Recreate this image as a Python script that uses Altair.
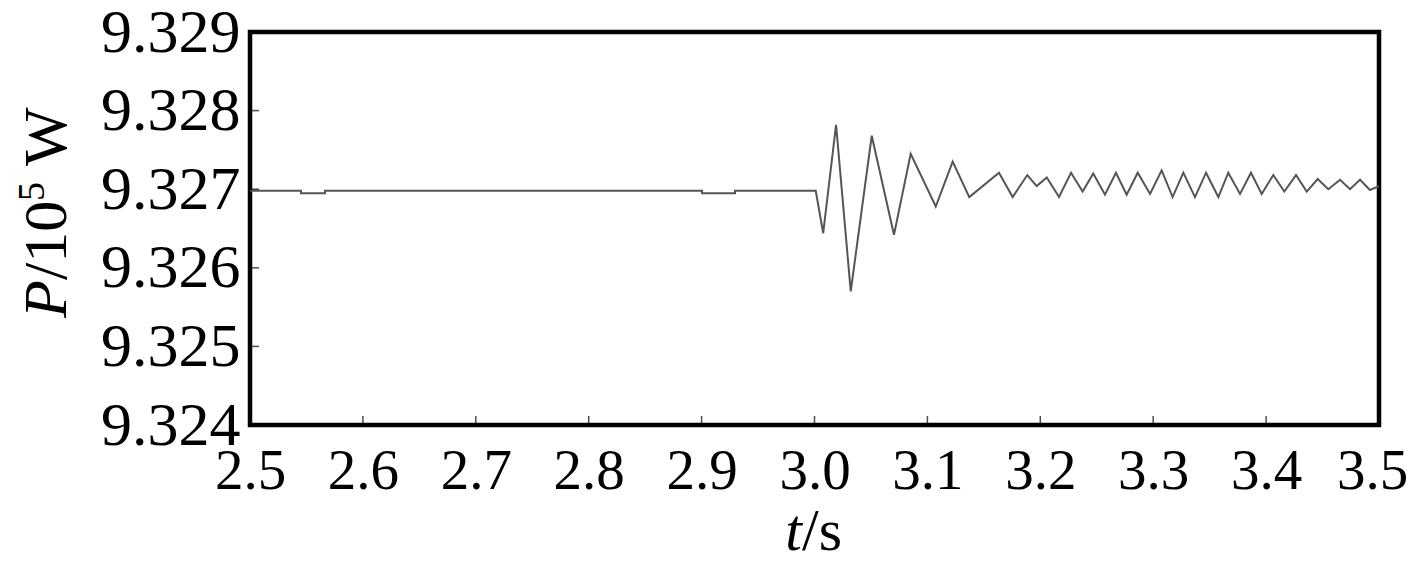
import altair as alt
import pandas as pd

# time (s) and power (1e5 W)
t_vals = [2.5, 2.5452, 2.5452, 2.5664, 2.5664, 2.9004, 2.9004, 2.9296, 2.9296,
          3.0011, 3.0077, 3.0191, 3.0321, 3.0507, 3.0704, 3.0852, 3.1074, 3.1224,
          3.1371, 3.1634, 3.1755, 3.1885, 3.1968, 3.2057, 3.2166, 3.2272, 3.2375,
          3.2469, 3.2573, 3.2670, 3.2765, 3.2863, 3.2972, 3.3075, 3.3172, 3.3267,
          3.3370, 3.3468, 3.3577, 3.3665, 3.3769, 3.3866, 3.3961, 3.4064, 3.4161,
          3.4265, 3.4360, 3.4457, 3.4551, 3.4655, 3.4743, 3.4832, 3.4920, 3.5]
p_vals = [9.32698, 9.32698, 9.32695, 9.32695, 9.32698, 9.32698, 9.32695, 9.32695, 9.32698,
          9.32698, 9.32644, 9.32782, 9.32570, 9.32768, 9.32642, 9.32745, 9.32678, 9.32735,
          9.32690, 9.32721, 9.32690, 9.32718, 9.32704, 9.32715, 9.32690, 9.32721, 9.32697,
          9.32720, 9.32693, 9.32721, 9.32693, 9.32721, 9.32694, 9.32724, 9.32690, 9.32721,
          9.32690, 9.32721, 9.32690, 9.32721, 9.32694, 9.32721, 9.32694, 9.32718, 9.32697,
          9.32718, 9.32697, 9.32713, 9.32700, 9.32712, 9.32700, 9.32712, 9.32699, 9.32704]

x_ticks = [2.5, 2.6, 2.7, 2.8, 2.9, 3.0, 3.1, 3.2, 3.3, 3.4, 3.5]
y_ticks = [9.324, 9.325, 9.326, 9.327, 9.328, 9.329]

W, H = 1129, 393
FONT = "Liberation Serif"

df = pd.DataFrame({"t": t_vals, "p": p_vals})
xt = pd.DataFrame({"t": x_ticks})
yt = pd.DataFrame({"p": y_ticks})

xs = alt.Scale(domain=[2.5, 3.5], nice=False, zero=False)
ys = alt.Scale(domain=[9.324, 9.329], nice=False, zero=False)

line = alt.Chart(df).mark_line(color="#555555", strokeWidth=2, clip=True).encode(
    x=alt.X("t:Q", scale=xs,
            axis=alt.Axis(values=x_ticks, format=".1f", title=None, ticks=False,
                          domain=False, grid=False, labelFont=FONT, labelFontSize=57,
                          labelColor="black", labelPadding=18, labelFlush=False,
                          labelOffset=alt.condition("datum.value >= 3.45",
                                                    alt.value(-7), alt.value(0)))),
    y=alt.Y("p:Q", scale=ys,
            axis=alt.Axis(values=y_ticks, format=".3f", title=None, ticks=False,
                          domain=False, grid=False, labelFont=FONT, labelFontSize=62,
                          labelColor="black", labelPadding=10, labelFlush=False)),
)

xtick_marks = alt.Chart(xt).mark_tick(color="black", thickness=1.5, size=9, orient="vertical").encode(
    x=alt.X("t:Q", scale=xs), y=alt.value(H - 4.5))
ytick_marks = alt.Chart(yt).mark_tick(color="black", thickness=1.5, size=9, orient="horizontal").encode(
    y=alt.Y("p:Q", scale=ys), x=alt.value(4.5))

def txt(s, x, y, size=62, italic=False, align="left", angle=0):
    kw = dict(text=s, font=FONT, fontSize=size, color="black", align=align,
              baseline="alphabetic", angle=angle)
    if italic:
        kw["fontStyle"] = "italic"
    return alt.Chart(pd.DataFrame({"k": [0]})).mark_text(**kw).encode(
        x=alt.value(x), y=alt.value(y))

xtitle_t = txt("t", 552, 518, size=60, italic=True, align="right")
xtitle_s = txt("/s", 552, 518, size=60)

ytitle_p = txt("P", -184, 286, italic=True, align="left", angle=270)
ytitle_10 = txt("/10", -184, 248, align="left", angle=270)
ytitle_5 = txt("5", -206, 169, size=38, align="left", angle=270)
ytitle_w = txt("W", -184, 134, align="left", angle=270)

chart = alt.layer(line, xtick_marks, ytick_marks, xtitle_t, xtitle_s,
                  ytitle_p, ytitle_10, ytitle_5, ytitle_w).properties(
    width=W, height=H,
    background="white",
    autosize=alt.AutoSizeParams(type="none"),
    padding={"left": 242, "top": 24, "right": 30, "bottom": 136},
).configure_view(stroke="black", strokeWidth=4.5)

chart.save("out.html", embed_options={"renderer": "svg", "actions": False})
